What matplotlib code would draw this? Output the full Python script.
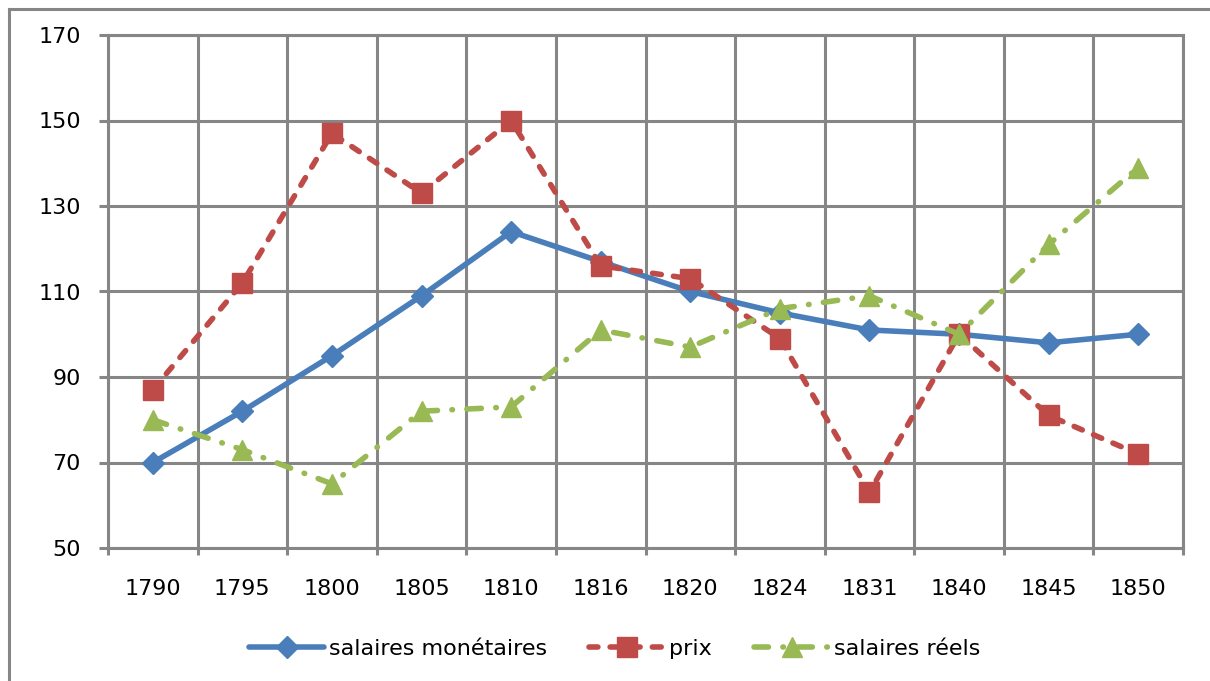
import matplotlib
matplotlib.use('Agg')
import matplotlib.pyplot as plt
from matplotlib.lines import Line2D

# données
annees = ['1790', '1795', '1800', '1805', '1810', '1816',
          '1820', '1824', '1831', '1840', '1845', '1850']
salaires_monetaires = [70, 82, 95, 109, 124, 117, 110, 105, 101, 100, 98, 100]
prix = [87, 112, 147, 133, 150, 116, 113, 99, 63, 100, 81, 72]
salaires_reels = [80, 73, 65, 82, 83, 101, 97, 106, 109, 100, 121, 139]

gris = '#868686'
bleu = '#4a7ebb'
rouge = '#be4b48'
vert = '#98b954'

fig = plt.figure(figsize=(12.1, 6.81), dpi=100)
ax = fig.add_axes([108 / 1210, 1 - 548 / 681, (1183 - 108) / 1210, (548 - 35) / 681])

x = list(range(len(annees)))

ax.plot(x, salaires_monetaires, color=bleu, lw=4, marker='D', markersize=11,
        solid_capstyle='round', solid_joinstyle='round', zorder=3,
        label='salaires monétaires')
ax.plot(x, prix, color=rouge, lw=4, linestyle=(0, (1.6, 2.2)), marker='s',
        markersize=15, dash_capstyle='round', zorder=4, label='prix')
ax.plot(x, salaires_reels, color=vert, lw=4, linestyle=(0, (2.6, 2.6, 0.1, 2.6)),
        marker='^', markersize=15, dash_capstyle='round', zorder=5,
        label='salaires réels')

ax.set_xlim(-0.5, len(annees) - 0.5)
ax.set_ylim(50, 170)

ax.set_xticks(x)
ax.set_xticklabels(annees)
ax.set_xticks([i - 0.5 for i in range(len(annees) + 1)], minor=True)
ax.set_yticks(range(50, 171, 20))

ax.tick_params(axis='x', which='major', length=0, pad=22, labelsize=16)
ax.tick_params(axis='x', which='minor', length=5, width=2.2, color=gris)
ax.tick_params(axis='y', which='major', length=6.5, width=2.2, color=gris,
               pad=13, labelsize=16)

ax.grid(True, axis='x', which='minor', color=gris, lw=2.2)
ax.grid(True, axis='y', which='major', color=gris, lw=2.2)
ax.grid(False, axis='x', which='major')
ax.set_axisbelow(True)
for s in ax.spines.values():
    s.set_color(gris)
    s.set_linewidth(2.2)

# cadre du graphique (seuls les bords haut et gauche sont visibles)
fig.add_artist(Line2D([9 / 1210, 9 / 1210], [0, 1 - 9 / 681], color=gris, lw=2.2))
fig.add_artist(Line2D([9 / 1210, 1], [1 - 9 / 681, 1 - 9 / 681], color=gris, lw=2.2))

fig.legend(loc='center', bbox_to_anchor=(0.508, 1 - 649 / 681), ncol=3,
           frameon=False, handlelength=3.4, handletextpad=0.2, columnspacing=1.9,
           prop={'family': ['Liberation Sans Narrow', 'DejaVu Sans'], 'size': 16})

fig.savefig('out.png', dpi=100)
